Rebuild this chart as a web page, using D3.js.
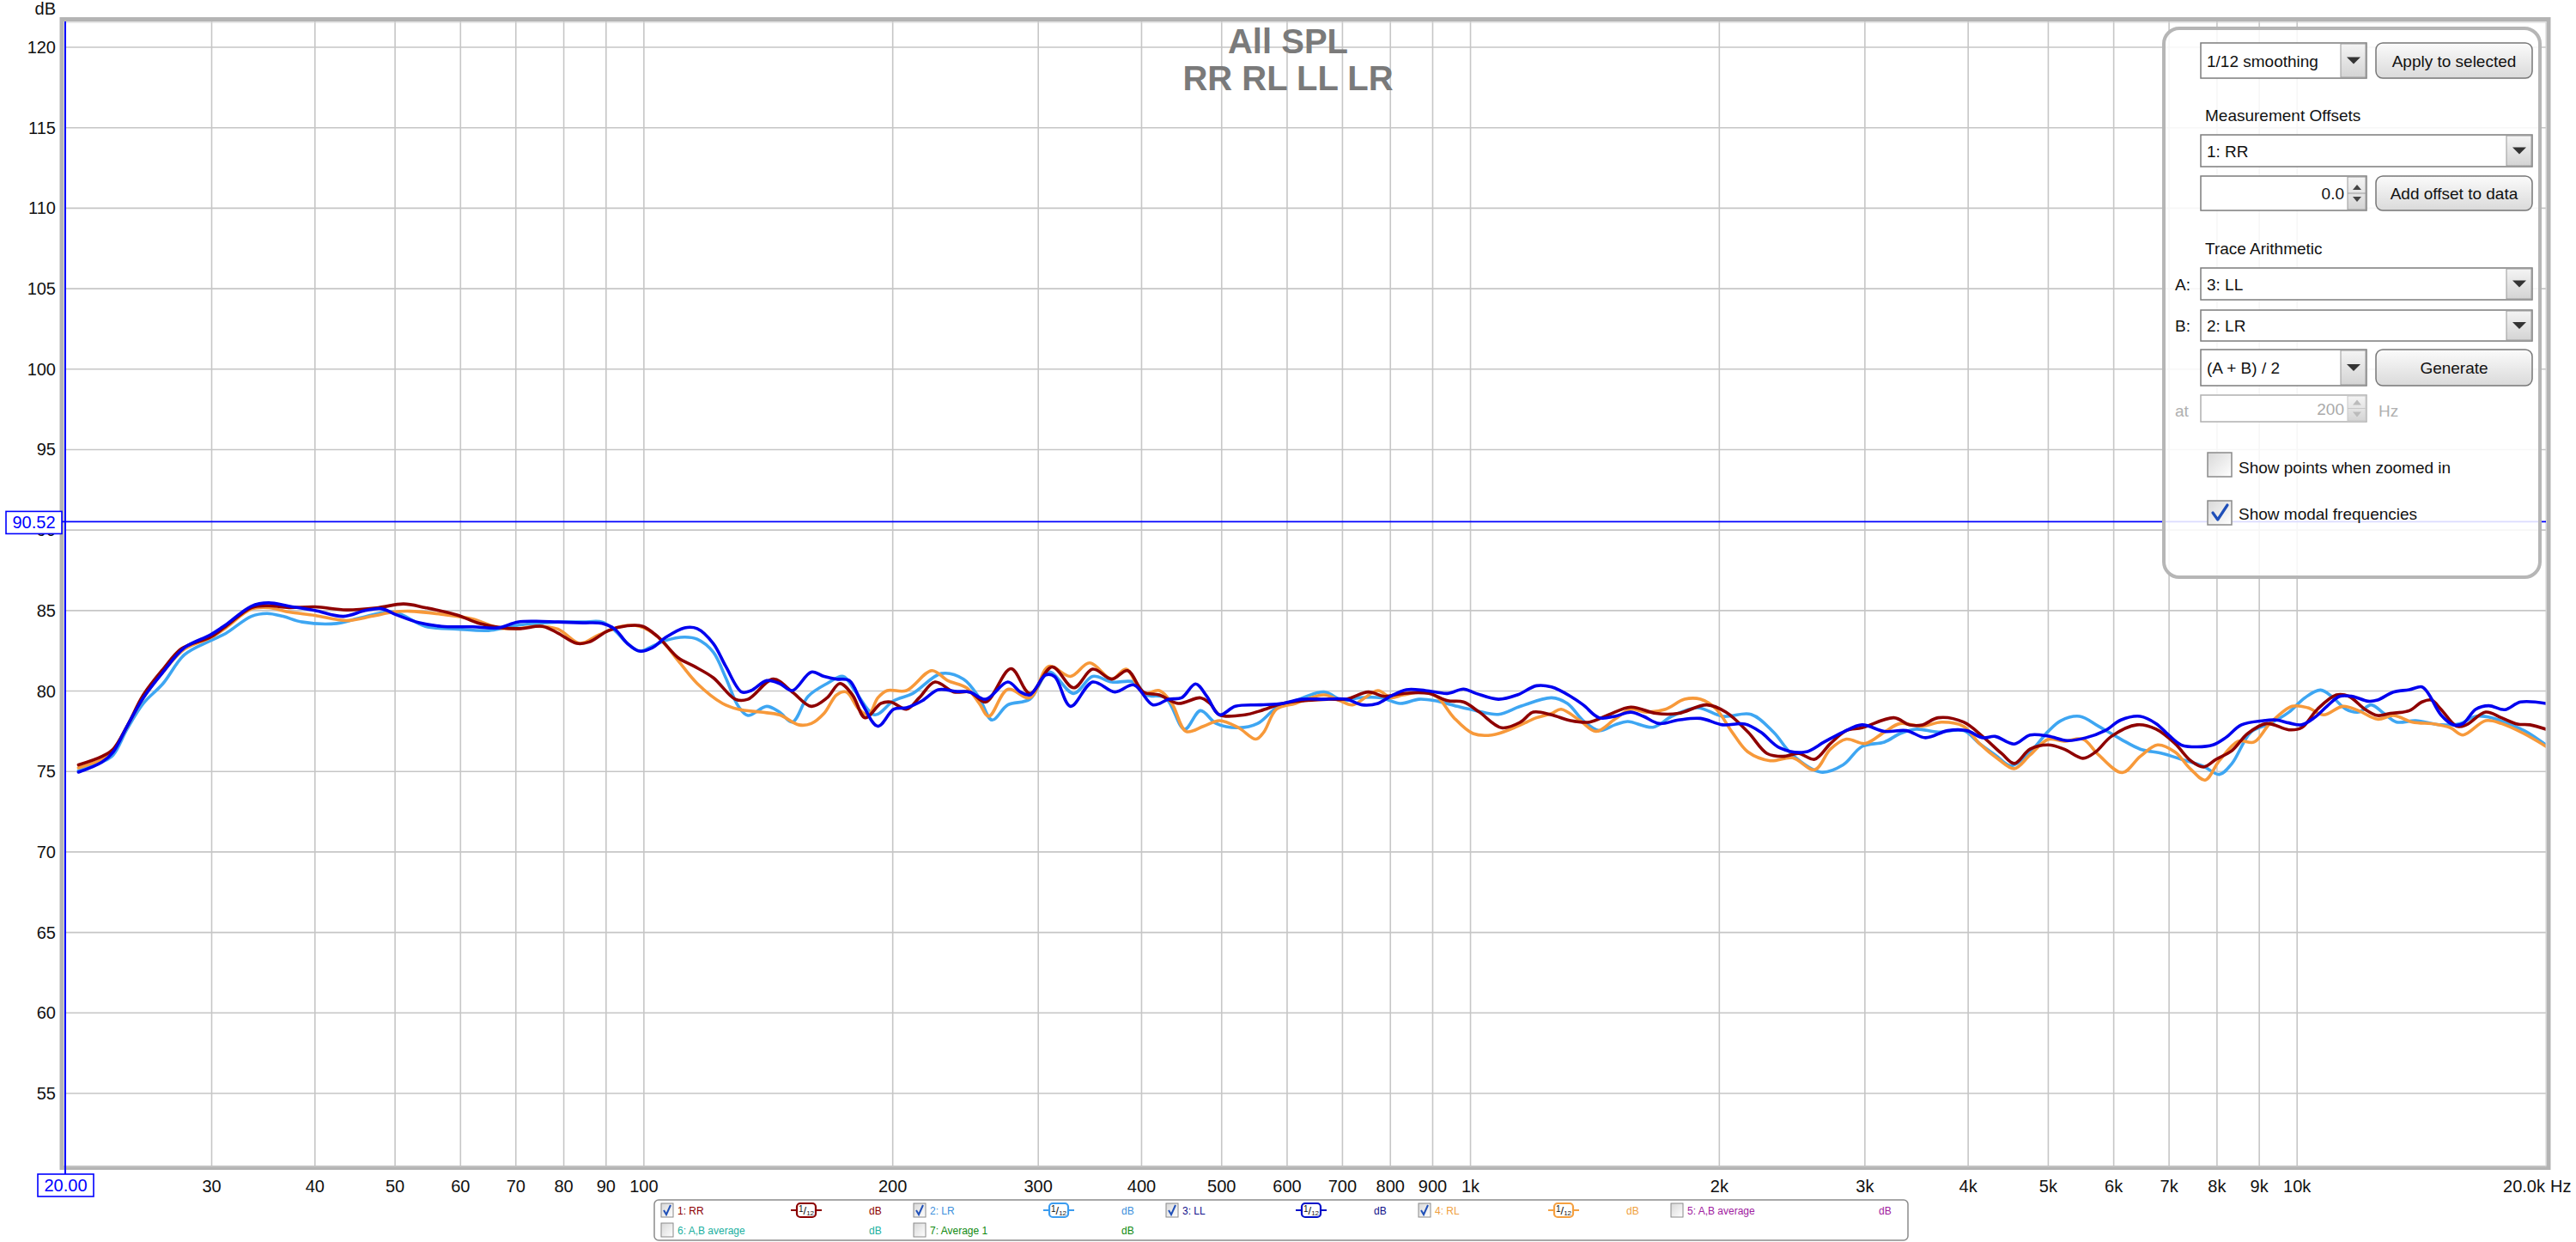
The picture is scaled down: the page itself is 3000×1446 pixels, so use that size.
<!DOCTYPE html>
<html>
<head>
<meta charset="utf-8">
<script src="https://cdn.jsdelivr.net/npm/d3@7"></script>
<style>
  html, body { margin: 0; padding: 0; background: #ffffff; }
  svg { display: block; }
  text { font-family: "Liberation Sans", Arial, sans-serif; }
</style>
</head>
<body>
<svg id="chart" width="3000" height="1446"></svg>
<script>
// ---------------- DATA ----------------
const titleLines = ["All SPL", "RR RL LL LR"];
const freqTicks = [30,40,50,60,70,80,90,100,200,300,400,500,600,700,800,900,1000,2000,3000,4000,5000,6000,7000,8000,9000,10000];
const freqTickLabels = ["30","40","50","60","70","80","90","100","200","300","400","500","600","700","800","900","1k","2k","3k","4k","5k","6k","7k","8k","9k","10k"];
const dbTicks = [55,60,65,70,75,80,85,90,95,100,105,110,115,120];
const cursorFreq = 20.00;
const cursorDb = 90.52;

// [frequency Hz, SPL dB]
const seriesRR = [[20.7,75.41],[22.1,75.94],[22.8,76.39],[23.7,77.81],[24.8,79.76],[26.2,81.36],[27.6,82.64],[29.9,83.35],[31.2,84.02],[33.5,85.18],[35.15,85.30],[37.2,85.18],[40,85.23],[43.65,85.04],[47.7,85.18],[51.2,85.41],[54.4,85.18],[59.4,84.73],[63.2,84.20],[67.3,83.93],[70.9,83.88],[75.4,84.02],
[78.7,83.6],[82.9,82.96],[85.9,83.05],[90.6,83.76],[95.5,84.06],[99.7,84.02],[104.3,83.31],[110.0,82.07],[115.0,81.54],[121.3,80.83],[129.0,79.49],[133.6,79.49],[143.4,80.74],[151.2,79.94],[159.4,79.05],[166.6,79.58],[172.6,80.47],[178.8,79.76],[185.2,78.34],[193.6,79.23],[198.8,79.32],[207.8,78.87],[215.3,79.58],[225.0,80.56],[237.2,79.94],[247.9,79.94],[259.1,79.32],[278.0,81.39],[293.1,79.85],[311.8,81.5],
[331.1,80.20],[349.1,81.36],[368.2,80.74],[384.7,81.27],[402.1,79.94],[420.2,79.76],[443.0,79.23],[471.3,79.58],[484.0,79.23],[497.0,78.52],[533.3,78.52],[557.4,78.78],[592.8,79.23],[630.7,79.40],[670.8,79.49],[707.4,79.49],[752.5,79.94],[786.4,79.67],[829.1,79.85],[889.8,79.85],[938.2,79.40],[980.6,79.32],[1024.9,78.69],[1090.2,77.72],[1149.5,78.07],[1191.0,78.69],[1253.4,78.52],
[1321.5,78.16],[1393.2,78.07],[1468.9,78.52],[1562.6,79.00],[1676.9,78.61],[1783.9,78.61],[1931.6,79.14],[2036.5,78.69],[2166.3,77.45],[2284.2,76.12],[2387.6,75.94],[2495.0,76.12],[2607.8,75.76],[2725.5,76.74],[2848.7,77.54],[2976.9,77.72],[3252.2,78.34],[3398.4,77.90],[3520.9,77.90],[3679.3,78.34],[3948.9,78.07],[4163.6,77.18],[4390.0,76.12],[4547.4,75.50],[4753.0,76.39],[5000,76.65],
[5224,76.39],[5506,75.82],[5703,76.21],[5960,77.18],[6403,77.90],[6751,77.63],[7116,76.74],[7436,75.67],[7704,75.28],[7981,75.76],[8341,76.30],[8715,77.36],[9189,77.98],[9775,77.59],[10126,77.72],[10582,78.87],[11157,79.76],[11556,79.67],[12078,78.87],[12511,78.48],[12962,78.61],[13667,78.78],[14157,79.32],[14537,79.44],[14927,78.87],[15600,77.81],[16018,77.90],[16909,78.69],[17668,78.34],[18469,77.95],[19131,77.90],[20000,77.63]];

const seriesLR = [[20.7,75.05],[22.1,75.59],[22.8,76.03],[23.7,77.63],[24.8,79.23],[26.2,80.47],[27.8,82.25],[29.9,83.13],[31.2,83.58],[33.5,84.64],[35.0,84.82],[36.6,84.64],[38.6,84.29],[42.5,84.20],[45.2,84.52],[49.8,84.91],[54.4,84.02],[59.4,83.85],[64.9,83.76],[67.9,83.93],[70.9,84.11],[74.5,84.2],
[78.7,84.29],[84.4,84.29],[89.0,84.29],[92.2,83.76],[95.5,82.96],[98.8,82.48],[102.4,82.78],[106.1,83.13],[112.0,83.35],[116.0,83.22],[121.3,82.42],[125.6,80.83],[130.1,79.05],[133.6,78.48],[140.8,79.05],[145.9,78.69],[151.2,78.07],[158.0,79.67],[166.6,80.47],[174.2,80.91],[180.4,79.94],[190.2,78.52],[200.6,79.40],[211.5,79.85],[229.0,81.09],[243.6,80.74],[254.5,79.58],[263.7,78.20],[275.6,79.14],[293.1,79.49],[309.0,81.18],
[331.1,79.85],[349.1,80.91],[368.2,80.56],[391.6,80.56],[405.6,79.76],[427.7,79.58],[450.9,77.63],[471.3,78.78],[492.6,77.98],[524.0,77.72],[552.5,77.98],[582.5,78.96],[614.2,79.40],[664.9,79.94],[701.1,79.40],[732.8,79.58],[779.5,79.58],[821.9,79.23],[866.5,79.49],[905.7,79.40],[963.4,79.05],[1015.8,78.78],[1080.7,78.55],[1149.5,79.05],[1253.4,79.58],
[1309.9,79.23],[1368.8,78.16],[1430.6,77.54],[1495.2,77.90],[1548.8,78.11],[1662.1,77.75],[1752.6,78.43],[1881.1,78.96],[2018.6,78.43],[2185.5,78.55],[2325.1,77.45],[2451.6,76.03],[2654.4,74.96],[2823.2,75.41],[2976.9,76.56],[3167.2,76.83],[3309.6,77.36],[3459.1,77.63],[3679.3,77.45],[3948.9,77.54],[4127.3,76.74],[4312.9,76.03],[4507.8,75.36],[4753.0,76.21],[5000,77.5],
[5178,78.16],[5457,78.43],[5753,77.81],[6120,77.01],[6460,76.39],[6870,76.12],[7242,75.76],[7704,75.32],[8051,74.82],[8341,75.50],[8793,77.45],[9271,77.98],[9775,78.69],[10216,79.58],[10675,80.06],[11059,79.58],[11455,78.87],[11866,78.69],[12293,79.14],[12734,78.61],[13191,78.07],[13909,78.16],[14927,77.90],[15737,77.98],[16448,78.43],[17207,78.34],[18144,77.90],[18964,77.45],[20000,76.65]];

const seriesLL = [[20.7,74.96],[22.1,75.59],[22.8,76.21],[23.7,77.81],[24.8,79.58],[26.2,81.18],[27.8,82.69],[29.9,83.49],[31.2,84.11],[33.5,85.27],[35.15,85.48],[37.2,85.27],[40,85.0],[43.3,84.64],[46,85.0],[48.1,85.12],[50.2,84.73],[53.5,84.24],[56.9,84.02],[62.1,83.99],[66.7,83.93],[70.3,84.29],[74.1,84.34],
[78.7,84.29],[84.4,84.24],[89.0,84.20],[92.2,83.85],[95.5,82.96],[98.8,82.48],[102.4,82.69],[106.1,83.31],[112.0,83.93],[116.0,83.88],[121.3,82.96],[125.6,81.54],[131.3,79.94],[134.8,80.03],[140.8,80.65],[145.9,80.47],[151.2,80.03],[159.4,81.18],[165.2,80.91],[171.1,80.74],[177.2,80.65],[183.6,79.23],[191.9,77.81],[200.6,78.87],[207.8,78.96],[217.2,79.40],[227.0,80.08],[239.3,79.97],[247.9,79.94],[259.1,79.49],[275.6,80.56],[285.5,79.94],[293.1,79.76],[306.3,81.00],
[314,80.9],[328.2,79.05],[349.1,80.56],[371.4,79.94],[391.6,80.38],[412.9,79.14],[431.5,79.49],[447.2,79.58],[465.0,80.44],[479.7,79.67],[497.0,78.52],[519.4,79.05],[557.4,79.14],[592.8,79.23],[625.1,79.49],[664.9,79.49],[707.4,79.49],[739.3,79.14],[772.7,79.23],[800.4,79.67],[836.5,80.08],[882.0,80.03],[938.2,79.85],[980.6,80.12],[1015.8,79.85],[1080.7,79.49],[1139.5,79.76],[1201.8,80.33],
[1253,80.25],[1321.5,79.67],[1368.8,79.14],[1430.6,78.34],[1495.2,78.43],[1562.6,78.69],[1618.7,78.43],[1691.8,77.98],[1783.9,78.20],[1897.8,78.30],[2018.6,77.90],[2147.3,77.95],[2244.2,77.45],[2366.2,76.47],[2539.6,76.21],[2677.7,76.83],[2823.2,77.45],[2976.9,77.90],[3167.2,77.49],[3368.8,77.54],[3551.9,77.10],[3778.1,77.54],[3983.6,77.54],[4163.6,77.10],[4312.9,77.18],[4547.4,76.71],[4753.0,77.27],
[5000,77.2],[5270,76.92],[5554,77.10],[5856,77.54],[6120,78.20],[6460,78.43],[6751,77.98],[6991,77.27],[7242,76.65],[7569,76.53],[7911,76.65],[8194,77.10],[8565,77.90],[9109,78.16],[9435,78.20],[9775,78.02],[10126,77.90],[10490,78.34],[10865,79.05],[11254,79.67],[11660,79.67],[12184,79.37],[12511,79.44],[13076,79.94],[13667,80.08],[14157,80.26],[14411,79.85],[14927,78.52],[15462,77.90],[15875,77.98],[16448,78.87],[17057,79.09],[17828,78.84],[18631,79.32],[20000,79.23]];

const seriesRL = [[20.7,75.23],[22.1,75.76],[22.8,76.30],[23.7,77.81],[24.8,79.58],[26.2,81.18],[27.8,82.60],[29.9,83.31],[31.2,83.93],[33.5,85.09],[35.15,85.18],[37.2,84.91],[40,84.70],[43.65,84.38],[46.8,84.64],[49.8,84.91],[52.1,84.96],[56.9,84.77],[62.1,84.47],[66.7,83.93],[70.3,83.88],[74.1,84.02],
[78.7,83.85],[83.7,82.96],[88.2,83.49],[93.9,84.02],[98.8,84.02],[104.3,83.31],[110.0,81.89],[116.0,80.47],[124.5,79.23],[130.1,78.87],[138.4,78.69],[145.9,78.52],[153.9,77.90],[159.4,77.98],[165.2,78.61],[171.1,79.76],[175.7,79.94],[182.0,78.87],[186.9,78.52],[191.9,79.58],[197.0,80.03],[207.8,80.03],[223.0,81.27],[233.1,80.65],[245.7,80.20],[254.5,79.23],[261.4,78.43],[275.6,80.11],[293.1,79.58],[309.0,81.54],
[328.2,80.91],[346.1,81.75],[368.2,80.74],[383.1,81.36],[402.1,79.85],[420.2,80.03],[435.3,79.23],[452.9,77.49],[475.5,77.81],[497.0,78.16],[524.0,77.72],[550.1,77.01],[562.3,77.45],[582.5,78.87],[614.2,79.23],[664.9,79.76],[695.0,79.40],[720.0,79.14],[772.7,80.03],[800.4,79.58],[829.1,79.76],[882.0,79.94],[913.7,79.58],[955.0,78.34],[1006.9,77.36],[1061.7,77.27],[1129.4,77.72],[1201.8,78.34],[1253.4,78.6],
[1287.0,78.87],[1356.9,78.16],[1418.1,77.49],[1495.2,78.25],[1562.6,78.87],[1633.0,78.69],[1721.9,78.87],[1815.6,79.49],[1897.8,79.49],[1983.4,78.87],[2072.4,77.45],[2166.3,76.21],[2304.3,75.67],[2451.6,75.85],[2607.8,75.11],[2725.5,76.39],[2848.7,77.01],[3003.8,76.74],[3167.2,77.45],[3309.6,77.98],[3520.9,77.81],[3712.5,78.07],[3948.9,77.81],[4127.3,76.74],[4351.8,75.76],[4547.4,75.18],[4753.0,76.03],[5000,77.0],
[5224,76.88],[5506,77.01],[5753,76.03],[6146,74.93],[6460,75.94],[6780,76.65],[7116,76.21],[7436,75.14],[7738,74.47],[8051,75.67],[8489,76.88],[8871,76.83],[9271,77.98],[9861,79.05],[10305,78.96],[10770,78.52],[11355,79.05],[11866,78.78],[12511,78.25],[13076,78.48],[13787,78.07],[14665,77.95],[15327,77.72],[15875,77.27],[16909,78.16],[17668,77.98],[18798,77.36],[20000,76.56]];

const legendRow1 = [
  {label:"1: RR", checked:true, smooth:true, text:"#8b0000", icon:"#8b0000"},
  {label:"2: LR", checked:true, smooth:true, text:"#3d8fdc", icon:"#3b9cf0"},
  {label:"3: LL", checked:true, smooth:true, text:"#10108a", icon:"#0010c8"},
  {label:"4: RL", checked:true, smooth:true, text:"#f0a040", icon:"#f5a040"},
  {label:"5: A,B average", checked:false, smooth:false, text:"#a020a0", icon:null}
];
const legendRow2 = [
  {label:"6: A,B average", checked:false, smooth:false, text:"#20b0a0", icon:null},
  {label:"7: Average 1", checked:false, smooth:false, text:"#108a10", icon:null}
];

// ---------------- DRAW ----------------
const svg = d3.select("#chart");
const PL = 77, PR = 2965, PT = 25, PB = 1358;

const x = d3.scaleLog().domain([20, 20000]).range([PL, PR]);
const y = d3.scaleLinear().domain([55, 120]).range([1273, 55]);

const defs = svg.append("defs");
defs.append("clipPath").attr("id","plotclip").append("rect")
  .attr("x", PL).attr("y", PT).attr("width", PR-PL).attr("height", PB-PT);
const btnGrad = defs.append("linearGradient").attr("id","btnGrad").attr("x1",0).attr("y1",0).attr("x2",0).attr("y2",1);
btnGrad.append("stop").attr("offset","0%").attr("stop-color","#fbfbfb");
btnGrad.append("stop").attr("offset","100%").attr("stop-color","#dadada");
const arrGrad = defs.append("linearGradient").attr("id","arrGrad").attr("x1",0).attr("y1",0).attr("x2",0).attr("y2",1);
arrGrad.append("stop").attr("offset","0%").attr("stop-color","#f4f4f4");
arrGrad.append("stop").attr("offset","100%").attr("stop-color","#d4d4d4");
const cbGrad = defs.append("linearGradient").attr("id","cbGrad").attr("x1",0).attr("y1",0).attr("x2",1).attr("y2",1);
cbGrad.append("stop").attr("offset","0%").attr("stop-color","#d8d8d8");
cbGrad.append("stop").attr("offset","100%").attr("stop-color","#ffffff");

// plot background
svg.append("rect").attr("x", PL).attr("y", PT).attr("width", PR-PL).attr("height", PB-PT).attr("fill", "#ffffff");

// gridlines
const grid = svg.append("g").attr("stroke", "#c6c6c6").attr("stroke-width", 1.6);
grid.selectAll("line.h").data(dbTicks).join("line")
  .attr("x1", PL).attr("x2", PR).attr("y1", d => y(d)).attr("y2", d => y(d));
grid.selectAll("line.v").data(freqTicks).join("line")
  .attr("y1", PT).attr("y2", PB).attr("x1", d => x(d)).attr("x2", d => x(d));

// title
const title = svg.append("g").attr("fill", "#7a7a7a").attr("font-weight", "bold").attr("font-size", 40).attr("text-anchor", "middle");
title.append("text").attr("x", 1500).attr("y", 62).text(titleLines[0]);
title.append("text").attr("x", 1500).attr("y", 105).text(titleLines[1]);

// curves
const line = d3.line().x(d => x(d[0])).y(d => y(d[1])).curve(d3.curveCatmullRom.alpha(0.5));
const curves = svg.append("g").attr("clip-path", "url(#plotclip)").attr("fill", "none")
  .attr("stroke-width", 3.6).attr("stroke-linejoin", "round").attr("stroke-linecap", "round");
[[seriesLR, "#3ea6f2"], [seriesRL, "#f7993a"], [seriesRR, "#8e0000"], [seriesLL, "#0000ee"]].forEach(([s, c]) => {
  curves.append("path").attr("d", line(s)).attr("stroke", c);
});

// frame
svg.append("rect").attr("x", 72).attr("y", 22.5).attr("width", 2896).attr("height", 1337)
  .attr("fill", "none").attr("stroke", "#b4b4b4").attr("stroke-width", 5);
svg.append("rect").attr("x", PL-1).attr("y", PT+1).attr("width", PR-PL+1).attr("height", PB-PT-1)
  .attr("fill", "none").attr("stroke", "#d0d0d0").attr("stroke-width", 1);

// y axis labels
svg.append("text").attr("x", 65).attr("y", 17).attr("text-anchor", "end").attr("font-size", 20).attr("fill", "#111").text("dB");
svg.append("g").attr("font-size", 20).attr("fill", "#111").attr("text-anchor", "end")
  .selectAll("text").data(dbTicks).join("text")
  .attr("x", 65).attr("y", d => y(d) + 7).text(d => d);

// x axis labels
svg.append("g").attr("font-size", 20).attr("fill", "#111").attr("text-anchor", "middle")
  .selectAll("text").data(freqTicks).join("text")
  .attr("x", d => x(d)).attr("y", 1388).text((d, i) => freqTickLabels[i]);
svg.append("text").attr("x", x(20000) - 1).attr("y", 1388).attr("text-anchor", "end").attr("font-size", 20).attr("fill", "#111").text("20.0k");
svg.append("text").attr("x", x(20000) + 5).attr("y", 1388).attr("font-size", 20).attr("fill", "#111").text("Hz");

// cursors
const cur = "#0000ff";
svg.append("line").attr("x1", x(cursorFreq) - 1).attr("x2", x(cursorFreq) - 1).attr("y1", PT).attr("y2", 1367)
  .attr("stroke", cur).attr("stroke-width", 2);
svg.append("line").attr("x1", 72).attr("x2", PR).attr("y1", y(cursorDb)).attr("y2", y(cursorDb))
  .attr("stroke", cur).attr("stroke-width", 1.6);
// cursor readouts
svg.append("rect").attr("x", 7).attr("y", y(cursorDb) - 12).attr("width", 65).attr("height", 26)
  .attr("fill", "#fff").attr("stroke", cur).attr("stroke-width", 1.6);
svg.append("text").attr("x", 39.5).attr("y", y(cursorDb) + 8).attr("text-anchor", "middle").attr("font-size", 20).attr("fill", cur).text(cursorDb.toFixed(2));
svg.append("rect").attr("x", x(cursorFreq) - 33).attr("y", 1367).attr("width", 65).attr("height", 26)
  .attr("fill", "#fff").attr("stroke", cur).attr("stroke-width", 1.6);
svg.append("text").attr("x", x(cursorFreq) - 0.5).attr("y", 1387).attr("text-anchor", "middle").attr("font-size", 20).attr("fill", cur).text(cursorFreq.toFixed(2));

// ---------------- control panel ----------------
const P = svg.append("g");
P.append("rect").attr("x", 2520).attr("y", 33).attr("width", 438).attr("height", 639).attr("rx", 18)
  .attr("fill", "#ffffff").attr("fill-opacity", 0.86).attr("stroke", "#b6b6b6").attr("stroke-width", 4);

function dropdown(x0, y0, w, h, label, arrowW) {
  P.append("rect").attr("x", x0).attr("y", y0).attr("width", w).attr("height", h).attr("fill", "#fff").attr("stroke", "#7c7c7c").attr("stroke-width", 1.5);
  P.append("rect").attr("x", x0 + w - arrowW).attr("y", y0 + 1).attr("width", arrowW - 1).attr("height", h - 2).attr("fill", "url(#arrGrad)").attr("stroke", "#9a9a9a").attr("stroke-width", 1);
  const cx = x0 + w - arrowW / 2, cy = y0 + h / 2;
  P.append("path").attr("d", `M${cx-8},${cy-4}L${cx+8},${cy-4}L${cx},${cy+4}Z`).attr("fill", "#333");
  P.append("text").attr("x", x0 + 7).attr("y", cy + 7).attr("font-size", 19).attr("fill", "#111").text(label);
}
function button(x0, y0, w, h, label) {
  P.append("rect").attr("x", x0).attr("y", y0).attr("width", w).attr("height", h).attr("rx", 8)
    .attr("fill", "url(#btnGrad)").attr("stroke", "#777").attr("stroke-width", 1.5);
  P.append("text").attr("x", x0 + w / 2).attr("y", y0 + h / 2 + 7).attr("text-anchor", "middle").attr("font-size", 19).attr("fill", "#111").text(label);
}
function spin(x0, y0, w, h, label, disabled) {
  const col = disabled ? "#b0b0b0" : "#7c7c7c";
  P.append("rect").attr("x", x0).attr("y", y0).attr("width", w).attr("height", h).attr("fill", "#fff").attr("stroke", col).attr("stroke-width", 1.5);
  const aw = 22;
  P.append("rect").attr("x", x0 + w - aw).attr("y", y0 + 1).attr("width", aw - 1).attr("height", h - 2).attr("fill", "url(#arrGrad)").attr("stroke", disabled ? "#c8c8c8" : "#9a9a9a");
  P.append("line").attr("x1", x0 + w - aw).attr("x2", x0 + w - 1).attr("y1", y0 + h / 2).attr("y2", y0 + h / 2).attr("stroke", disabled ? "#c8c8c8" : "#9a9a9a");
  const cx = x0 + w - aw / 2, c = disabled ? "#bbb" : "#444";
  P.append("path").attr("d", `M${cx-5},${y0+h/2-4}L${cx+5},${y0+h/2-4}L${cx},${y0+h/2-10}Z`).attr("fill", c);
  P.append("path").attr("d", `M${cx-5},${y0+h/2+4}L${cx+5},${y0+h/2+4}L${cx},${y0+h/2+10}Z`).attr("fill", c);
  P.append("text").attr("x", x0 + w - aw - 4).attr("y", y0 + h / 2 + 7).attr("text-anchor", "end").attr("font-size", 19).attr("fill", disabled ? "#aaa" : "#111").text(label);
}
function plainText(x0, yb, label, col) {
  P.append("text").attr("x", x0).attr("y", yb).attr("font-size", 19).attr("fill", col || "#111").text(label);
}
function checkbox(x0, y0, s, checked) {
  P.append("rect").attr("x", x0).attr("y", y0).attr("width", s).attr("height", s).attr("fill", "url(#cbGrad)").attr("stroke", "#8a8a8a").attr("stroke-width", 1.5);
  if (checked) {
    P.append("path").attr("d", `M${x0+6},${y0+s*0.5}L${x0+s*0.42},${y0+s-6}L${x0+s-5},${y0+5}`)
      .attr("fill", "none").attr("stroke", "#1f4fb8").attr("stroke-width", 3.2).attr("stroke-linecap", "round").attr("stroke-linejoin", "round");
  }
}

dropdown(2563, 50, 193, 41, "1/12 smoothing", 30);
button(2767, 50, 182, 41, "Apply to selected");
plainText(2568, 141, "Measurement Offsets");
dropdown(2563, 157, 386, 37, "1: RR", 30);
spin(2563, 205, 193, 40, "0.0", false);
button(2767, 205, 182, 40, "Add offset to data");
plainText(2568, 296, "Trace Arithmetic");
plainText(2533, 338, "A:");
dropdown(2563, 312, 386, 37, "3: LL", 30);
plainText(2533, 386, "B:");
dropdown(2563, 361, 386, 36, "2: LR", 30);
dropdown(2563, 407, 193, 42, "(A + B) / 2", 30);
button(2767, 407, 182, 42, "Generate");
plainText(2533, 485, "at", "#b0b0b0");
spin(2563, 460, 193, 31, "200", true);
plainText(2770, 485, "Hz", "#b0b0b0");
checkbox(2571, 527, 28, false);
plainText(2607, 551, "Show points when zoomed in");
checkbox(2571, 583, 28, true);
plainText(2607, 605, "Show modal frequencies");

// ---------------- legend ----------------
const L = svg.append("g");
L.append("rect").attr("x", 762).attr("y", 1397).attr("width", 1460).attr("height", 47).attr("rx", 5)
  .attr("fill", "#fff").attr("stroke", "#8c8c8c").attr("stroke-width", 1.5);
function legendItem(item, i, rowY) {
  const cx0 = 770 + i * 294;
  L.append("rect").attr("x", cx0).attr("y", rowY - 8).attr("width", 14).attr("height", 16)
    .attr("fill", "url(#cbGrad)").attr("stroke", "#8a8a8a").attr("stroke-width", 1);
  if (item.checked) {
    L.append("path").attr("d", `M${cx0+3},${rowY}L${cx0+6},${rowY+5}L${cx0+11},${rowY-6}`)
      .attr("fill", "none").attr("stroke", "#2050b8").attr("stroke-width", 2);
  }
  L.append("text").attr("x", cx0 + 19).attr("y", rowY + 5).attr("font-size", 12).attr("fill", item.text).text(item.label);
  if (item.smooth) {
    L.append("line").attr("x1", cx0 + 151).attr("x2", cx0 + 187).attr("y1", rowY).attr("y2", rowY).attr("stroke", item.icon).attr("stroke-width", 2);
    L.append("rect").attr("x", cx0 + 158).attr("y", rowY - 8).attr("width", 22).attr("height", 16).attr("rx", 4)
      .attr("fill", "#fff").attr("stroke", item.icon).attr("stroke-width", 2.2);
    const t = L.append("text").attr("x", cx0 + 169).attr("y", rowY + 5).attr("text-anchor", "middle").attr("fill", "#111");
    t.append("tspan").attr("font-size", 10).attr("dy", -3).text("1");
    t.append("tspan").attr("font-size", 13).attr("dy", 3).text("/");
    t.append("tspan").attr("font-size", 8).attr("dy", 1).text("12");
  }
  L.append("text").attr("x", cx0 + 242).attr("y", rowY + 5).attr("font-size", 12).attr("fill", item.text).text("dB");
}
legendRow1.forEach((it, i) => legendItem(it, i, 1409));
legendRow2.forEach((it, i) => legendItem(it, i, 1432));
</script>
</body>
</html>
